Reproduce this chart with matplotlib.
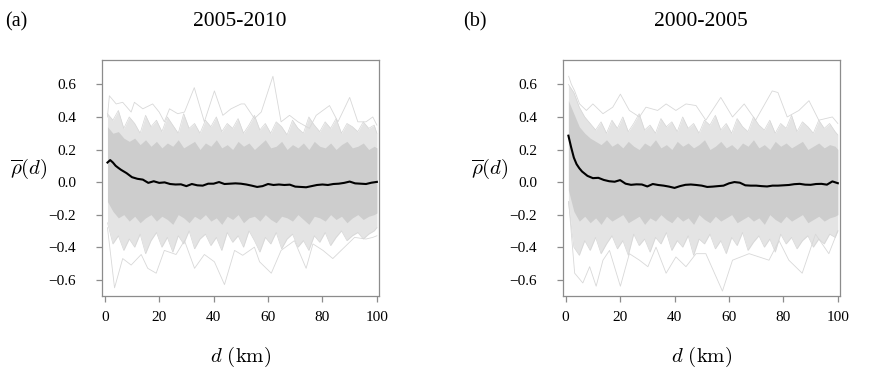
import numpy as np
import matplotlib
matplotlib.use("Agg")
import matplotlib.pyplot as plt

plt.rcParams["font.family"] = ["Liberation Serif", "DejaVu Serif"]
plt.rcParams["mathtext.fontset"] = "cm"

# distance grid of the mean curves (km)
D_MEAN = [1, 2, 3, 4, 5, 6] + list(range(8, 101, 2))

MEAN_A = [0.12, 0.135, 0.12, 0.10, 0.087, 0.075,
          0.055, 0.03, 0.02, 0.015, -0.005, 0.005, -0.005, -0.002, -0.012, -0.015,
          -0.014, -0.025, -0.012, -0.02, -0.022, -0.01, -0.01, 0.0, -0.012, -0.01,
          -0.008, -0.01, -0.015, -0.022, -0.03, -0.025, -0.012, -0.018, -0.015, -0.018,
          -0.016, -0.028, -0.03, -0.032, -0.025, -0.018, -0.015, -0.018, -0.012, -0.01,
          -0.005, 0.003, -0.008, -0.01, -0.012, -0.004, 0.001]
MEAN_B = [0.285, 0.214, 0.15, 0.11, 0.085, 0.065,
          0.038, 0.024, 0.026, 0.013, 0.005, 0.002, 0.012, -0.01, -0.017, -0.014,
          -0.015, -0.027, -0.012, -0.018, -0.022, -0.028, -0.036, -0.025, -0.017, -0.015,
          -0.018, -0.022, -0.03, -0.028, -0.025, -0.022, -0.008, 0.0, -0.004, -0.02,
          -0.022, -0.022, -0.025, -0.027, -0.022, -0.022, -0.02, -0.018, -0.013, -0.011,
          -0.016, -0.017, -0.012, -0.011, -0.016, 0.004, -0.007]

# outer extremes of the gray curves (read at the visible spikes)
UP_D_A = [1, 1.7, 4.2, 6.6, 9.7, 10.9, 14, 17.6, 20, 21.9, 23.8, 26.8, 29.3, 32.9, 36.6,
          40.3, 43.4, 46.4, 50.1, 51.4, 55, 57.5, 61.8, 64.8, 67.9, 71, 75.2, 77.7, 82.6,
          85.7, 90, 93, 96, 98.5, 100]
UP_V_A = [0.40, 0.53, 0.48, 0.49, 0.43, 0.49, 0.45, 0.48, 0.43, 0.37, 0.45, 0.42, 0.43, 0.58,
          0.37, 0.56, 0.41, 0.45, 0.48, 0.48, 0.39, 0.43, 0.65, 0.37, 0.41, 0.37, 0.33, 0.41,
          0.47, 0.37, 0.52, 0.37, 0.37, 0.40, 0.35]
LO_D_A = [1, 3.6, 6.6, 9.7, 13.4, 15.8, 18.9, 21.9, 26.2, 29.3, 33, 36.6, 40.3, 44, 47.7,
          50.7, 55, 56.9, 61.2, 64.8, 69.7, 74, 76.5, 80.2, 83.8, 88.1, 91.8, 96, 98.5, 100]
LO_V_A = [-0.28, -0.65, -0.47, -0.51, -0.445, -0.53, -0.56, -0.42, -0.445, -0.36, -0.53,
          -0.445, -0.49, -0.63, -0.42, -0.45, -0.40, -0.49, -0.56, -0.42, -0.36, -0.53, -0.38,
          -0.42, -0.47, -0.40, -0.34, -0.35, -0.34, -0.33]

UP_D_B = [1.1, 2.1, 3.3, 5.1, 7.6, 10, 13.7, 17.3, 20.1, 23.4, 27.1, 29.5, 33.8, 36.9, 40.5,
          44.2, 47.9, 51.5, 57, 61.3, 65.6, 69.8, 75.9, 78, 81.4, 85.7, 89.4, 93, 98, 100]
UP_V_B = [0.65, 0.60, 0.56, 0.48, 0.44, 0.48, 0.42, 0.46, 0.54, 0.44, 0.40, 0.46, 0.44, 0.48,
          0.44, 0.48, 0.47, 0.38, 0.52, 0.40, 0.48, 0.38, 0.56, 0.55, 0.40, 0.44, 0.50, 0.38,
          0.40, 0.36]
LO_D_B = [1.1, 3.3, 6.3, 8.8, 11.2, 13.7, 16.1, 20.1, 23.4, 27.1, 30.2, 33.2, 36.9, 40.5,
          44.2, 47.9, 51.5, 57.6, 61.3, 67.4, 74.7, 78.4, 82, 86.9, 91.8, 96.7, 100]
LO_V_B = [-0.12, -0.56, -0.62, -0.52, -0.64, -0.48, -0.42, -0.64, -0.44, -0.48, -0.52, -0.40,
          -0.56, -0.46, -0.52, -0.44, -0.44, -0.67, -0.48, -0.44, -0.48, -0.36, -0.48, -0.56,
          -0.32, -0.44, -0.30]

# jagged edges of the dense bundle (solid core) and of its fringe, every 2 km
D_FR = list(range(1, 100, 2)) + [100]

CORE_UP_A = [0.34, 0.30, 0.31, 0.27, 0.25, 0.27, 0.23, 0.26, 0.22, 0.25,
             0.21, 0.24, 0.22, 0.26, 0.21, 0.23, 0.25, 0.20, 0.24, 0.22,
             0.26, 0.21, 0.23, 0.20, 0.25, 0.22, 0.24, 0.20, 0.23, 0.26,
             0.21, 0.22, 0.25, 0.20, 0.23, 0.21, 0.24, 0.20, 0.25, 0.22,
             0.21, 0.24, 0.20, 0.23, 0.25, 0.21, 0.22, 0.24, 0.20, 0.22, 0.21]
MID_UP_A = [0.42, 0.38, 0.44, 0.33, 0.40, 0.36, 0.30, 0.41, 0.34, 0.38,
            0.31, 0.40, 0.35, 0.30, 0.42, 0.33, 0.36, 0.30, 0.38, 0.34,
            0.40, 0.31, 0.36, 0.33, 0.39, 0.30, 0.35, 0.41, 0.32, 0.36,
            0.30, 0.37, 0.34, 0.29, 0.38, 0.33, 0.30, 0.40, 0.35, 0.31,
            0.37, 0.33, 0.39, 0.30, 0.36, 0.34, 0.31, 0.37, 0.33, 0.35, 0.30]
CORE_LO_A = [-0.12, -0.18, -0.22, -0.20, -0.24, -0.21, -0.25, -0.22, -0.20, -0.24,
             -0.21, -0.23, -0.26, -0.20, -0.22, -0.25, -0.21, -0.23, -0.20, -0.24,
             -0.22, -0.26, -0.21, -0.23, -0.20, -0.25, -0.22, -0.21, -0.24, -0.20,
             -0.23, -0.25, -0.21, -0.22, -0.24, -0.20, -0.23, -0.26, -0.21, -0.22,
             -0.24, -0.20, -0.23, -0.21, -0.25, -0.22, -0.20, -0.23, -0.21, -0.20, -0.19]
MID_LO_A = [-0.25, -0.38, -0.33, -0.42, -0.35, -0.40, -0.32, -0.44, -0.36, -0.31,
            -0.40, -0.34, -0.43, -0.33, -0.38, -0.30, -0.41, -0.35, -0.32, -0.39,
            -0.34, -0.42, -0.31, -0.37, -0.33, -0.40, -0.30, -0.36, -0.43, -0.34,
            -0.38, -0.31, -0.41, -0.35, -0.32, -0.40, -0.36, -0.42, -0.33, -0.37,
            -0.31, -0.39, -0.34, -0.30, -0.36, -0.33, -0.31, -0.35, -0.32, -0.30, -0.28]

CORE_UP_B = [0.50, 0.42, 0.34, 0.30, 0.27, 0.25, 0.23, 0.26, 0.22, 0.24,
             0.21, 0.25, 0.22, 0.20, 0.24, 0.22, 0.26, 0.21, 0.23, 0.20,
             0.25, 0.22, 0.24, 0.21, 0.23, 0.26, 0.20, 0.22, 0.25, 0.21,
             0.23, 0.20, 0.24, 0.22, 0.26, 0.21, 0.23, 0.20, 0.25, 0.22,
             0.24, 0.21, 0.23, 0.25, 0.20, 0.22, 0.24, 0.21, 0.23, 0.22, 0.20]
MID_UP_B = [0.60, 0.55, 0.46, 0.40, 0.36, 0.32, 0.37, 0.30, 0.38, 0.33,
            0.40, 0.31, 0.36, 0.42, 0.32, 0.35, 0.30, 0.39, 0.34, 0.37,
            0.31, 0.40, 0.33, 0.36, 0.30, 0.38, 0.35, 0.41, 0.32, 0.36,
            0.30, 0.39, 0.34, 0.31, 0.40, 0.35, 0.32, 0.38, 0.30, 0.36,
            0.33, 0.41, 0.31, 0.37, 0.34, 0.30, 0.38, 0.33, 0.36, 0.31, 0.29]
CORE_LO_B = [-0.05, -0.18, -0.24, -0.21, -0.25, -0.22, -0.26, -0.21, -0.24, -0.22,
             -0.20, -0.25, -0.23, -0.21, -0.26, -0.22, -0.24, -0.20, -0.23, -0.25,
             -0.21, -0.24, -0.22, -0.26, -0.20, -0.23, -0.25, -0.21, -0.24, -0.22,
             -0.20, -0.25, -0.23, -0.21, -0.24, -0.22, -0.26, -0.20, -0.23, -0.25,
             -0.21, -0.24, -0.22, -0.20, -0.25, -0.23, -0.21, -0.24, -0.22, -0.21, -0.20]
MID_LO_B = [-0.12, -0.40, -0.45, -0.36, -0.42, -0.34, -0.44, -0.38, -0.33, -0.41,
            -0.36, -0.45, -0.32, -0.39, -0.35, -0.43, -0.34, -0.38, -0.31, -0.42,
            -0.36, -0.40, -0.33, -0.45, -0.35, -0.38, -0.32, -0.41, -0.36, -0.44,
            -0.34, -0.39, -0.31, -0.42, -0.37, -0.33, -0.40, -0.35, -0.43, -0.32,
            -0.38, -0.34, -0.41, -0.36, -0.33, -0.40, -0.35, -0.38, -0.32, -0.34, -0.30]

FRAME = "#8c8c8c"


def draw_panel(ax, mean, up_d, up_v, lo_d, lo_v, core_up, core_lo, mid_up, mid_lo):
    # sparse outer strands
    ax.plot(up_d, up_v, color="#d8d8d8", lw=0.6)
    ax.plot(lo_d, lo_v, color="#d8d8d8", lw=0.6)
    # fringe
    ax.fill_between(D_FR, mid_lo, mid_up, color="#e4e4e4", lw=0)
    ax.plot(D_FR, mid_up, color="#d6d6d6", lw=0.5)
    ax.plot(D_FR, mid_lo, color="#d6d6d6", lw=0.5)
    # dense core
    ax.fill_between(D_FR, core_lo, core_up, color="#cdcdcd", lw=0)
    ax.plot(D_MEAN, mean, color="black", lw=1.5)

    ax.set_xlim(-1, 100.8)
    ax.set_ylim(-0.70, 0.75)
    ax.set_xticks(range(0, 101, 20))
    ax.set_yticks([-0.6, -0.4, -0.2, 0.0, 0.2, 0.4, 0.6])
    ax.set_yticklabels(["\u22120.6", "\u22120.4", "\u22120.2", "0.0", "0.2", "0.4", "0.6"])
    for s in ax.spines.values():
        s.set_color(FRAME)
        s.set_linewidth(0.9)
    ax.tick_params(colors=FRAME, labelcolor="black", labelsize=11, length=4, width=0.9)
    ax.tick_params(axis="y", pad=14.5)
    ax.tick_params(axis="x", pad=7)
    ax.set_xlabel(r"$d\ (\mathrm{km})$", fontsize=15, va="center")
    ax.xaxis.set_label_coords(0.5, -0.258)
    ax.set_ylabel(r"$\overline{\rho}(d)$", fontsize=15, rotation=0, va="center", ha="center")
    ax.yaxis.set_label_coords(-0.265, 0.54)


fig = plt.figure(figsize=(8.72, 3.74), dpi=100)
ax_a = fig.add_axes([0.117, 0.2086, 0.3177, 0.631])
ax_b = fig.add_axes([0.6456, 0.2086, 0.3177, 0.631])

draw_panel(ax_a, MEAN_A, UP_D_A, UP_V_A, LO_D_A, LO_V_A, CORE_UP_A, CORE_LO_A, MID_UP_A, MID_LO_A)
draw_panel(ax_b, MEAN_B, UP_D_B, UP_V_B, LO_D_B, LO_V_B, CORE_UP_B, CORE_LO_B, MID_UP_B, MID_LO_B)

fig.text(0.275, 0.942, "2005-2010", ha="center", va="center", fontsize=15.5)
fig.text(0.804, 0.942, "2000-2005", ha="center", va="center", fontsize=15.5)
fig.text(0.006, 0.942, "(a)", ha="left", va="center", fontsize=14.5)
fig.text(0.531, 0.942, "(b)", ha="left", va="center", fontsize=14.5)

fig.savefig("out.png", dpi=100)
